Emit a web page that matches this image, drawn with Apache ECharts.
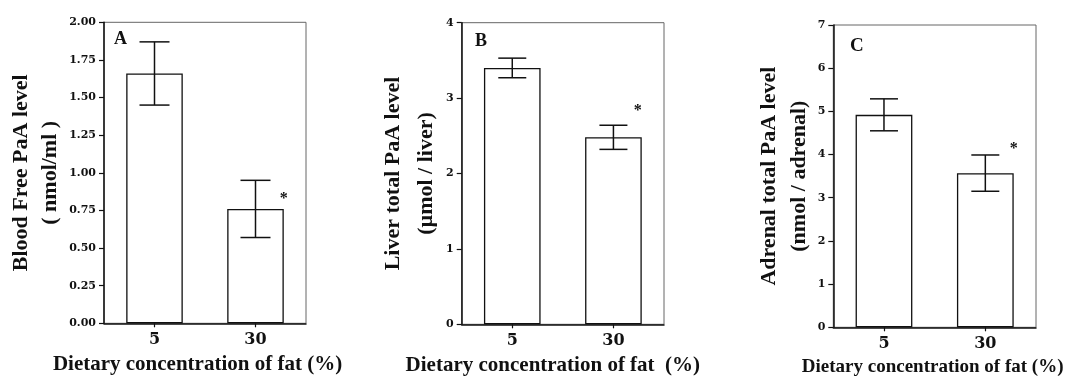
<!DOCTYPE html>
<html>
<head>
<meta charset="utf-8">
<script src="https://cdn.jsdelivr.net/npm/echarts@6/dist/echarts.min.js"></script>
<style>
  html, body { margin: 0; padding: 0; background: #fff; }
  #chart { width: 1067px; height: 384px; }
</style>
</head>
<body>
<div id="chart"></div>
<script>
// Dietary fat groups (% of diet)
const categories = ['5', '30'];

// A: blood free PaA (nmol/ml), mean and SE
const bloodMean = [1.66, 0.76];
const bloodSE = [0.21, 0.19];

// B: liver total PaA (µmol / liver)
const liverMean = [3.40, 2.48];
const liverSE = [0.13, 0.16];

// C: adrenal total PaA (nmol / adrenal)
const adrenalMean = [4.92, 3.57];
const adrenalSE = [0.37, 0.42];

// groups marked with an asterisk (significant vs 5 %)
const significant = [false, true];

// value-axis ranges
const bloodAxis = { min: 0, max: 2, interval: 0.25 };
const liverAxis = { min: 0, max: 4, interval: 1 };
const adrenalAxis = { min: 0, max: 7, interval: 1 };

const xTitleA = 'Dietary concentration of fat (%)';
const xTitleB = 'Dietary concentration of fat  (%)';
const xTitleC = 'Dietary concentration of fat (%)';

const SERIF = "'Liberation Serif', 'Times New Roman', serif";
const NUM = "'DejaVu Serif', serif";
const INK = '#111';

const panels = [
  {
    letter: 'A', mean: bloodMean, se: bloodSE, axis: bloodAxis, decimals: 2,
    yName: 'Blood Free PaA level\n( nmol/ml )', xName: xTitleA,
    grid: { left: 104, top: 22.3, width: 202, height: 301 },
    yGap: 37.5, yLine: 29, xGap: 31, xSize: 21, xPad: [0, 15, 0, 0],
    letterPos: { left: 114, top: 30.6, size: 18 },
    cap: 15, star: [0, 18.5]
  },
  {
    letter: 'B', mean: liverMean, se: liverSE, axis: liverAxis, decimals: 0,
    yName: 'Liver total PaA level\n(µmol / liver)', xName: xTitleB,
    grid: { left: 461.7, top: 22.7, width: 202.3, height: 301.6 },
    yGap: 15.5, yLine: 32.5, xGap: 31, xSize: 21, xPad: [0, 20, 0, 0],
    letterPos: { left: 475, top: 32.4, size: 18 },
    cap: 14, star: [-4, -14.3]
  },
  {
    letter: 'C', mean: adrenalMean, se: adrenalSE, axis: adrenalAxis, decimals: 0,
    yName: 'Adrenal total PaA level\n(nmol / adrenal)', xName: xTitleC,
    grid: { left: 833.3, top: 25, width: 202.7, height: 302.3 },
    yGap: 17.2, yLine: 29.6, xGap: 25, xSize: 19, xPad: [0, 4, 0, 0],
    letterPos: { left: 850, top: 36.5, size: 19 },
    cap: 14, star: [0, -6.4]
  }
];

function errorBars(p) {
  return function (params, api) {
    const i = api.value(0);
    const m = api.value(1);
    const s = api.value(2);
    const c = api.coord([i, m]);
    const hi = api.coord([i, m + s]);
    const lo = api.coord([i, m - s]);
    const band = api.size([1, 0])[0];
    const style = { stroke: INK, lineWidth: 1.5 };
    const children = [
      { type: 'line', shape: { x1: c[0], y1: hi[1], x2: c[0], y2: lo[1] }, style },
      { type: 'line', shape: { x1: c[0] - p.cap, y1: hi[1], x2: c[0] + p.cap, y2: hi[1] }, style },
      { type: 'line', shape: { x1: c[0] - p.cap, y1: lo[1], x2: c[0] + p.cap, y2: lo[1] }, style }
    ];
    if (significant[i]) {
      children.push({
        type: 'text',
        x: c[0] + band * 0.28 + p.star[0],
        y: hi[1] + p.star[1],
        style: {
          text: '*', fill: INK, align: 'center', verticalAlign: 'middle',
          font: 'bold 16px ' + SERIF
        }
      });
    }
    return { type: 'group', children };
  };
}

const option = {
  backgroundColor: '#fff',
  animation: false,
  title: panels.map(p => ({
    text: p.letter, left: p.letterPos.left, top: p.letterPos.top, padding: 0,
    textStyle: { fontFamily: SERIF, fontWeight: 'bold', fontSize: p.letterPos.size, color: INK }
  })),
  grid: panels.map(p => Object.assign({
    show: true, borderColor: '#666', borderWidth: 1, backgroundColor: 'transparent',
    containLabel: false, outerBoundsMode: 'none'
  }, p.grid)),
  xAxis: panels.map((p, k) => ({
    type: 'category', gridIndex: k, data: categories,
    name: p.xName, nameLocation: 'middle', nameGap: p.xGap,
    nameTextStyle: { fontFamily: SERIF, fontWeight: 'bold', fontSize: p.xSize, color: INK, padding: p.xPad },
    axisLine: { show: true, lineStyle: { color: INK, width: 1.5 } },
    axisTick: { show: true, alignWithLabel: true, length: 4, lineStyle: { color: INK, width: 1.2 } },
    axisLabel: { margin: 9, fontFamily: NUM, fontWeight: 'bold', fontSize: 16, color: INK },
    splitLine: { show: false }
  })),
  yAxis: panels.map((p, k) => ({
    type: 'value', gridIndex: k,
    min: p.axis.min, max: p.axis.max, interval: p.axis.interval,
    name: p.yName, nameLocation: 'middle', nameRotate: 90, nameGap: p.yGap,
    nameTextStyle: { fontFamily: SERIF, fontWeight: 'bold', fontSize: 22, color: INK, lineHeight: p.yLine },
    axisLine: { show: true, lineStyle: { color: INK, width: 1.5 } },
    axisTick: { show: true, length: 5, lineStyle: { color: INK, width: 1.2 } },
    axisLabel: {
      margin: 8, fontFamily: NUM, fontWeight: 'bold', fontSize: 11, color: INK,
      formatter: v => v.toFixed(p.decimals)
    },
    splitLine: { show: false }
  })),
  series: panels.flatMap((p, k) => [
    {
      type: 'bar', xAxisIndex: k, yAxisIndex: k, data: p.mean, barWidth: '56%',
      itemStyle: { color: '#fff', borderColor: INK, borderWidth: 1.3 },
      silent: true, z: 2
    },
    {
      type: 'custom', xAxisIndex: k, yAxisIndex: k, z: 3, silent: true,
      renderItem: errorBars(p),
      encode: { x: 0, y: 1 },
      data: categories.map((c, i) => [i, p.mean[i], p.se[i]])
    }
  ])
};

const chart = echarts.init(document.getElementById('chart'), null, { renderer: 'canvas' });
chart.setOption(option);
</script>
</body>
</html>
